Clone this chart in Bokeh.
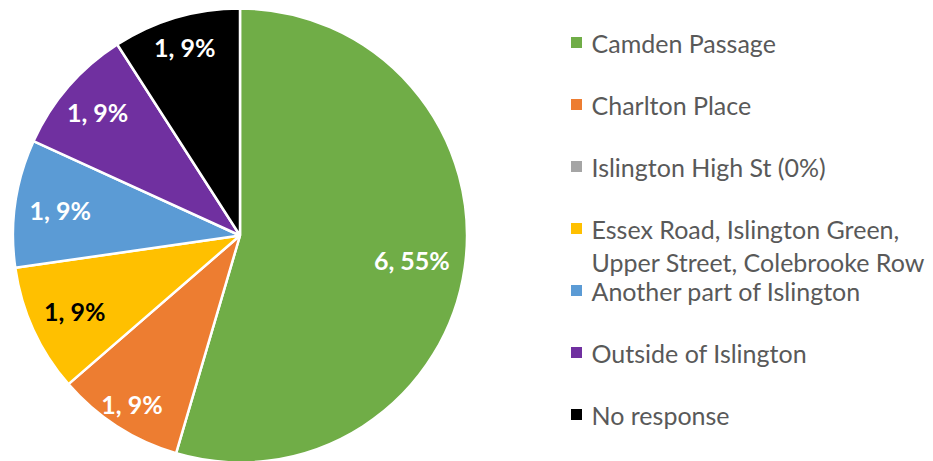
import math
from bokeh.plotting import figure
from bokeh.models import Range1d, ColumnDataSource
from bokeh.core.properties import value
from bokeh.embed import file_html
from bokeh.resources import INLINE

# ---- data ----
categories = ["Camden Passage", "Charlton Place", "Islington High St (0%)",
              "Essex Road, Islington Green,\nUpper Street, Colebrooke Row",
              "Another part of Islington", "Outside of Islington", "No response"]
counts = [6, 1, 0, 1, 1, 1, 1]
colors = ["#70AD47", "#ED7D31", "#A5A5A5", "#FFC000", "#5B9BD5", "#7030A0", "#000000"]
label_colors = ["white", "white", "white", "black", "white", "white", "white"]

# ---- layout constants ----
W, H = 933, 461
cx, cy, R = 239.5, H - 235.0, 227.0
label_frac = [0.765, 0.88, 0.8, 0.80, 0.80, 0.83, 0.865]
FONT = "Lato"

p = figure(width=W, height=H, output_backend="svg", toolbar_location=None,
           x_range=Range1d(0, W), y_range=Range1d(0, H), min_border=0)
p.axis.visible = False
p.grid.visible = False
p.outline_line_color = None
p.background_fill_color = "white"
p.border_fill_color = "white"

total = sum(counts)
starts, ends, wc, lx, ly, lt, lc = [], [], [], [], [], [], []
cum = 0.0
for i, v in enumerate(counts):
    a0 = cum / total * 2 * math.pi
    cum += v
    a1 = cum / total * 2 * math.pi
    if v == 0:
        continue
    starts.append(math.pi / 2 - a0)
    ends.append(math.pi / 2 - a1)
    wc.append(colors[i])
    mid = (a0 + a1) / 2
    d = label_frac[i] * R
    lx.append(cx + d * math.sin(mid))
    ly.append(cy + d * math.cos(mid))
    lt.append(f"{v}, {round(v / total * 100)}%")
    lc.append(label_colors[i])

src = ColumnDataSource(dict(s=starts, e=ends, c=wc))
p.wedge(x=cx, y=cy, radius=R, start_angle="s", end_angle="e", direction="clock",
        fill_color="c", line_color="white", line_width=2.5, source=src)

lsrc = ColumnDataSource(dict(x=lx, y=ly, t=lt, c=lc))
p.text(x="x", y="y", text="t", text_color="c", text_font=value(FONT),
       text_font_size="25px", text_font_style="bold", text_align="center",
       text_baseline="middle", source=lsrc)

# ---- legend ----
leg_x_sq = 576.0
leg_x_txt = 591.0
row0 = H - 42
row_gap = 62
line_gap = 33
sq_x, sq_y, sq_c, tx, ty, tt = [], [], [], [], [], []
for i, name in enumerate(categories):
    yc = row0 - row_gap * i
    sq_x.append(leg_x_sq)
    sq_y.append(yc)
    sq_c.append(colors[i])
    for j, line in enumerate(name.split("\n")):
        tx.append(leg_x_txt)
        ty.append(yc - j * line_gap)
        tt.append(line)

p.rect(x=sq_x, y=sq_y, width=11, height=11, fill_color=sq_c, line_color=None)
p.text(x=tx, y=ty, text=tt, text_color="#595959", text_font=value(FONT),
       text_font_size="25px", text_align="left", text_baseline="middle")

open("out.html", "w").write(file_html(p, INLINE))
